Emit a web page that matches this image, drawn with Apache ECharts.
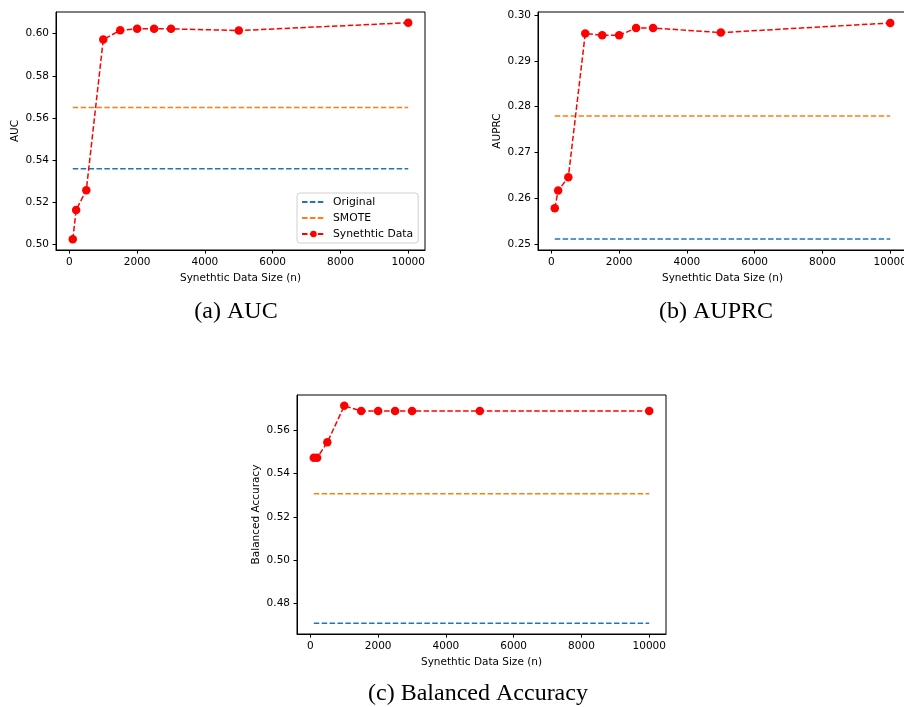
<!DOCTYPE html>
<html>
<head>
<meta charset="utf-8">
<script src="https://cdn.jsdelivr.net/npm/echarts@6/dist/echarts.min.js"></script>
<style>
  html, body { margin: 0; padding: 0; background: #fff; }
  #chart { width: 904px; height: 707px; }
</style>
</head>
<body>
<div id="chart"></div>
<script>
// data
const sizes = [100, 200, 500, 1000, 1500, 2000, 2500, 3000, 5000, 10000]
const xTicks = [0, 2000, 4000, 6000, 8000, 10000]

const aucSynth = [0.5025, 0.5164, 0.5258, 0.5972, 0.6016, 0.6024, 0.6024, 0.6023, 0.6015, 0.6052]
const aucOriginal = 0.536
const aucSmote = 0.565
const aucTicks = [0.50, 0.52, 0.54, 0.56, 0.58, 0.60]

const auprcSynth = [0.2578, 0.2617, 0.2646, 0.2960, 0.2956, 0.2956, 0.2972, 0.2972, 0.2962, 0.2983]
const auprcOriginal = 0.2511
const auprcSmote = 0.2780
const auprcTicks = [0.25, 0.26, 0.27, 0.28, 0.29, 0.30]

const baccSynth = [0.5474, 0.5474, 0.5545, 0.5714, 0.5690, 0.5690, 0.5690, 0.5690, 0.5690, 0.5690]
const baccOriginal = 0.4709
const baccSmote = 0.5308
const baccTicks = [0.48, 0.50, 0.52, 0.54, 0.56]

const BLUE = '#1f77b4'
const ORANGE = '#ff7f0e'
const RED = '#ff0000'
const FONT = 'DejaVu Sans'
const FS = 10.5

const chart = echarts.init(document.getElementById('chart'))

const grids = [
  { left: 56, top: 12, width: 369, height: 238 },
  { left: 538, top: 12, width: 369, height: 238 },
  { left: 297, top: 395, width: 369, height: 239 }
]

const makeX = (i) => ({
  type: 'value',
  gridIndex: i,
  min: -395,
  max: 10495,
  name: 'Synethtic Data Size (n)',
  nameLocation: 'middle',
  nameGap: 23,
  nameTextStyle: { color: '#000', fontFamily: FONT, fontSize: FS },
  axisLine: { show: true, onZero: false, lineStyle: { color: '#000', width: 1 } },
  axisTick: { show: true, length: 3.5, customValues: xTicks, lineStyle: { color: '#000' } },
  axisLabel: {
    customValues: xTicks, color: '#000', fontFamily: FONT, fontSize: FS, margin: 7,
    formatter: (v) => String(v)
  },
  splitLine: { show: false }
})

const makeY = (i, name, min, max, ticks) => ({
  type: 'value',
  gridIndex: i,
  min: min,
  max: max,
  name: name,
  nameLocation: 'middle',
  nameGap: 35,
  nameTextStyle: { color: '#000', fontFamily: FONT, fontSize: FS },
  axisLine: { show: true, onZero: false, lineStyle: { color: '#000', width: 1 } },
  axisTick: { show: true, length: 3.5, customValues: ticks, lineStyle: { color: '#000' } },
  axisLabel: {
    customValues: ticks, color: '#000', fontFamily: FONT, fontSize: FS, margin: 7,
    formatter: (v) => v.toFixed(2)
  },
  splitLine: { show: false }
})

const dash = [5.5, 2.4]
const flat = (v) => [[sizes[0], v], [sizes[sizes.length - 1], v]]
const makeSeries = (i, original, smote, synth) => [
  {
    name: 'Original', type: 'line', xAxisIndex: i, yAxisIndex: i,
    data: flat(original), symbol: 'none', silent: true,
    lineStyle: { color: BLUE, width: 1.5, type: dash }, itemStyle: { color: BLUE }
  },
  {
    name: 'SMOTE', type: 'line', xAxisIndex: i, yAxisIndex: i,
    data: flat(smote), symbol: 'none', silent: true,
    lineStyle: { color: ORANGE, width: 1.5, type: dash }, itemStyle: { color: ORANGE }
  },
  {
    name: 'Synethtic Data', type: 'line', xAxisIndex: i, yAxisIndex: i,
    data: sizes.map((x, k) => [x, synth[k]]), symbol: 'circle', symbolSize: 8.5, showAllSymbol: true,
    lineStyle: { color: RED, width: 1.5, type: dash }, itemStyle: { color: RED }
  }
]

const caption = (x, y, text) => ({
  type: 'text', x: x, y: y,
  style: { text: text, fill: '#000', font: '24px "Liberation Serif"', textAlign: 'center', textVerticalAlign: 'middle' }
})

const option = {
  animation: false,
  backgroundColor: '#fff',
  grid: grids.map(g => Object.assign({ show: true, borderColor: '#000', borderWidth: 1, backgroundColor: 'transparent', containLabel: false, outerBoundsMode: 'none' }, g)),
  xAxis: [makeX(0), makeX(1), makeX(2)],
  yAxis: [
    makeY(0, 'AUC', 0.4974, 0.6103, aucTicks),
    makeY(1, 'AUPRC', 0.2487, 0.3007, auprcTicks),
    makeY(2, 'Balanced Accuracy', 0.4659, 0.5764, baccTicks)
  ],
  legend: {
    orient: 'vertical',
    left: 297, top: 193,
    data: [
      { name: 'Original', itemStyle: { opacity: 0 } },
      { name: 'SMOTE', itemStyle: { opacity: 0 } },
      { name: 'Synethtic Data' }
    ],
    itemWidth: 23, itemHeight: 8, itemGap: 4,
    padding: [3, 5, 3, 4],
    backgroundColor: '#fff',
    borderColor: '#d0d0d0', borderWidth: 1, borderRadius: 3,
    textStyle: { color: '#000', fontFamily: FONT, fontSize: 10.8, lineHeight: 12, padding: [0, 0, 0, 3] },
    selectedMode: false
  },
  series: [
    ...makeSeries(0, aucOriginal, aucSmote, aucSynth),
    ...makeSeries(1, auprcOriginal, auprcSmote, auprcSynth),
    ...makeSeries(2, baccOriginal, baccSmote, baccSynth)
  ],
  graphic: [
    caption(236, 312, '(a) AUC'),
    caption(716, 312, '(b) AUPRC'),
    caption(478, 694, '(c) Balanced Accuracy')
  ]
}

chart.setOption(option)
</script>
</body>
</html>
